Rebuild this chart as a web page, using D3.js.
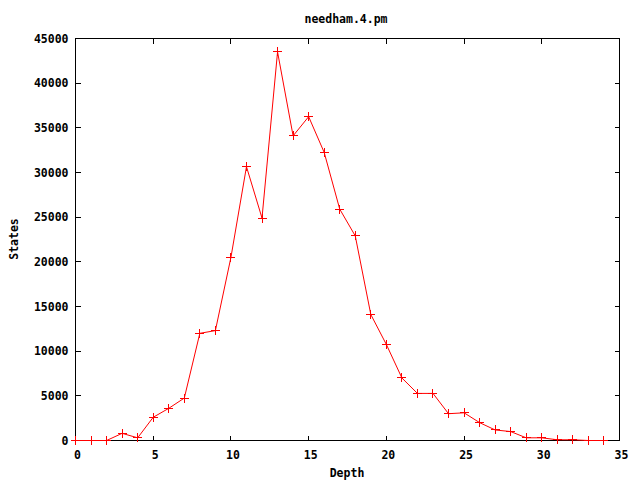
<!DOCTYPE html>
<html><head><meta charset="utf-8">
<script src="https://cdn.jsdelivr.net/npm/d3@7"></script>
<style>body{margin:0;background:#fff}svg{display:block}text{font-family:"DejaVu Sans Mono",monospace;font-weight:bold;font-size:11.5px;fill:#000}</style>
</head><body><svg id="c" width="640" height="480"></svg>
<script>
const depth = [0,1,2,3,4,5,6,7,8,9,10,11,12,13,14,15,16,17,18,19,20,21,22,23,24,25,26,27,28,29,30,31,32,33,34];
const states = [0,0,0,800,300,2600,3600,4750,12000,12300,20500,30650,24900,43500,34100,36250,32250,25900,22900,14100,10750,7000,5270,5270,3000,3100,2000,1180,1000,300,300,80,80,0,0];
const xTicks = [0,5,10,15,20,25,30,35];
const yTicks = [0,5000,10000,15000,20000,25000,30000,35000,40000,45000];
const title = "needham.4.pm", xLabel = "Depth", yLabel = "States";

const svg = d3.select("#c");
const L=75.5, R=619.5, T=38.5, B=440.5;
const x = d3.scaleLinear().domain([0,35]).range([L,R]);
const y = d3.scaleLinear().domain([0,45000]).range([B,T]);
const tk = 5;
const g = svg.append("g").attr("shape-rendering","crispEdges");
xTicks.forEach(v=>{
  const xx=Math.round(x(v)-0.5)+0.5;
  g.append("line").attr("x1",xx).attr("x2",xx).attr("y1",B).attr("y2",B-tk).attr("stroke","#000");
  g.append("line").attr("x1",xx).attr("x2",xx).attr("y1",T).attr("y2",T+tk).attr("stroke","#000");
  g.append("text").attr("x",x(v)+2).attr("y",B+18).attr("text-anchor","middle").text(v);
});
yTicks.forEach(v=>{
  const yy=Math.round(y(v)-0.5)+0.5;
  g.append("line").attr("x1",L).attr("x2",L+tk).attr("y1",yy).attr("y2",yy).attr("stroke","#000");
  g.append("line").attr("x1",R).attr("x2",R-tk).attr("y1",yy).attr("y2",yy).attr("stroke","#000");
  g.append("text").attr("x",L-7).attr("y",y(v)+4).attr("text-anchor","end").text(v);
});
g.append("rect").attr("x",L).attr("y",T).attr("width",R-L).attr("height",B-T).attr("fill","none").attr("stroke","#000");
const pts = depth.map((d,i)=>[d,states[i]]);
svg.append("path").datum(pts).attr("fill","none").attr("stroke","#ff0000").attr("stroke-width",1)
  .attr("d",d3.line().x(d=>x(d[0])).y(d=>y(d[1])));
const m = svg.append("g").attr("stroke","#ff0000").attr("stroke-width",1);
pts.forEach(p=>{
  const cx=Math.round(x(p[0])-0.5)+0.5, cy=Math.round(y(p[1])-0.5)+0.5;
  m.append("line").attr("x1",cx-4.5).attr("x2",cx+4.5).attr("y1",cy).attr("y2",cy);
  m.append("line").attr("x1",cx).attr("x2",cx).attr("y1",cy-4.5).attr("y2",cy+4.5);
});
svg.append("text").attr("x",346).attr("y",23).attr("text-anchor","middle").text(title);
svg.append("text").attr("x",347).attr("y",477).attr("text-anchor","middle").text(xLabel);
svg.append("text").attr("transform","translate(18,239) rotate(-90)").attr("text-anchor","middle").text(yLabel);
</script></body></html>
